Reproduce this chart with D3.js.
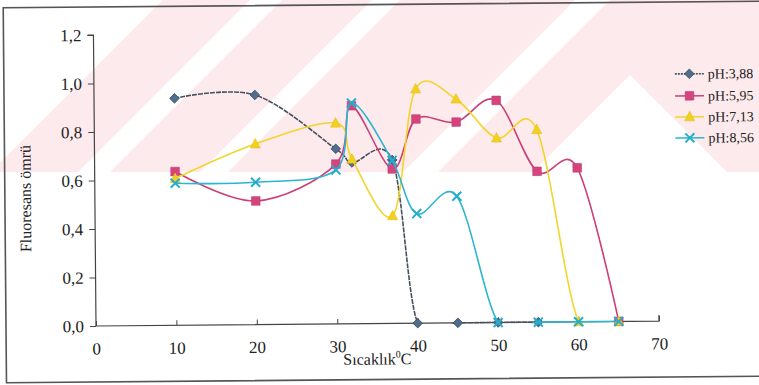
<!DOCTYPE html>
<html><head><meta charset="utf-8">
<script src="https://cdn.jsdelivr.net/npm/d3@7"></script>
<style>body{margin:0;background:#fff}svg{display:block}</style>
</head><body><svg id="c" width="759" height="385"></svg>
<script>
// ---- data ----
const temps = [10, 20, 30, 32, 37, 40, 45, 50, 55, 60, 65];
const seriesNames = ["pH:3,88", "pH:5,95", "pH:7,13", "pH:8,56"];
const ph388 = [0.936, 0.947, 0.722, 0.665, 0.674, 0, 0, 0, 0, null, null];
const ph595 = [0.634, 0.510, 0.659, 0.899, 0.637, 0.842, 0.828, 0.916, 0.622, 0.635, 0];
const ph713 = [0.605, 0.745, 0.828, 0.679, 0.444, 0.966, 0.923, 0.761, 0.794, 0, 0];
const ph856 = [0.586, 0.587, 0.635, 0.910, 0.672, 0.452, 0.522, 0, 0, 0, 0];
const xTicks = [0, 10, 20, 30, 40, 50, 60, 70];
const yTicks = [0, 0.2, 0.4, 0.6, 0.8, 1.0, 1.2];
const xTitle = "Sıcaklık";
const yTitle = "Fluoresans ömrü";

// ---- setup ----
const svg = d3.select("#c");
const font = "'Liberation Serif','Times New Roman',serif";

// faint watermark stripes (scan background)
const wm = svg.append("g");
svg.append("clipPath").attr("id", "wmclip").append("rect")
  .attr("x", 0).attr("y", 0).attr("width", 759).attr("height", 172);
wm.attr("clip-path", "url(#wmclip)");
const pinkBands = [[163, 250], [282, 372], [400, 575], [610, 1000]];
pinkBands.forEach(([a, b]) => {
  wm.append("path").attr("fill", "#fdeaed")
    .attr("d", `M${a},0 L${b},0 L${b - 400},400 L${a - 400},400 Z`);
});
wm.append("path").attr("fill", "#fff")
  .attr("d", "M630,75 L727,172 L533,172 Z");

const g = svg.append("g").attr("transform", "rotate(-0.5,96,326)");

// frame
g.append("rect").attr("x", 6).attr("y", 7).attr("width", 780).attr("height", 375)
  .attr("fill", "none").attr("stroke", "#555").attr("stroke-width", 1.6);

const x = d3.scaleLinear().domain([0, 70]).range([96, 659]);
const y = d3.scaleLinear().domain([0, 1.2]).range([326, 35]);

// axes
const yAxis = g.append("g").attr("transform", `translate(${x(0)},0)`)
  .call(d3.axisLeft(y).tickValues(yTicks).tickSize(6).tickPadding(6)
    .tickFormat(d => d3.format(".1f")(d).replace(".", ",")));
const xAxis = g.append("g").attr("transform", `translate(0,${y(0)})`)
  .call(d3.axisBottom(x).tickValues(xTicks).tickSize(-5).tickPadding(14));
[xAxis, yAxis].forEach(a => {
  a.select(".domain").attr("stroke", "#444").attr("stroke-width", 1.2);
  a.selectAll(".tick line").attr("stroke", "#444").attr("stroke-width", 1);
  a.selectAll("text").attr("font-family", font).attr("font-size", 17).attr("fill", "#222");
});
xAxis.selectAll(".tick text").attr("dy", "0.85em");
yAxis.select(".domain").attr("d", `M-6,${y(1.2)}H0V${y(0)}`);
xAxis.select(".domain").attr("d", `M${x(0)},0H${x(70)}V-6`);

// titles
const xt = g.append("text").attr("x", 343).attr("y", 367)
  .attr("font-family", font).attr("font-size", 16).attr("fill", "#222");
xt.append("tspan").text(xTitle);
xt.append("tspan").attr("font-size", 10).attr("dy", -7).text("0");
xt.append("tspan").attr("dy", 7).text("C");
g.append("text").attr("transform", "translate(32,198) rotate(-90)")
  .attr("text-anchor", "middle").attr("font-family", font).attr("font-size", 16)
  .attr("fill", "#222").text(yTitle);

// clip for lines
g.append("clipPath").attr("id", "plotclip").append("rect")
  .attr("x", x(0)).attr("y", y(1.2)).attr("width", x(70) - x(0)).attr("height", y(0) - y(1.2) + 1.2);

const series = [
  { name: seriesNames[0], vals: ph388, line: "#46505e", fill: "#4f6e8e", stroke: "#34475c", shape: "diamond", dash: "5,1" },
  { name: seriesNames[1], vals: ph595, line: "#cc3f78", fill: "#d4457d", stroke: "#c23a70", shape: "square", dash: null },
  { name: seriesNames[2], vals: ph713, line: "#f1d52c", fill: "#f3cf1f", stroke: "#e6c014", shape: "triangle", dash: null },
  { name: seriesNames[3], vals: ph856, line: "#2db5cf", fill: "none", stroke: "#25aecb", shape: "x", dash: null }
];

function marker(sel, s, cx, cy) {
  if (s.shape === "diamond") {
    sel.append("path").attr("d", `M${cx},${cy - 4.8}L${cx + 4.8},${cy}L${cx},${cy + 4.8}L${cx - 4.8},${cy}Z`)
      .attr("fill", s.fill).attr("stroke", s.stroke).attr("stroke-width", 0.8);
  } else if (s.shape === "square") {
    sel.append("rect").attr("x", cx - 4.3).attr("y", cy - 4.3).attr("width", 8.6).attr("height", 8.6)
      .attr("fill", s.fill).attr("stroke", s.stroke).attr("stroke-width", 0.6);
  } else if (s.shape === "triangle") {
    sel.append("path").attr("d", `M${cx},${cy - 5.5}L${cx + 5},${cy + 4}L${cx - 5},${cy + 4}Z`)
      .attr("fill", s.fill).attr("stroke", s.stroke).attr("stroke-width", 0.6);
  } else {
    sel.append("path").attr("d", `M${cx - 4.5},${cy - 4.5}L${cx + 4.5},${cy + 4.5}M${cx + 4.5},${cy - 4.5}L${cx - 4.5},${cy + 4.5}`)
      .attr("fill", "none").attr("stroke", s.stroke).attr("stroke-width", 2);
  }
}

const lineGen = d3.line()
  .defined(d => d[1] !== null)
  .x(d => x(d[0])).y(d => y(d[1]))
  .curve(d3.curveCardinal.tension(0));

series.forEach(s => {
  const pts = temps.map((t, i) => [t, s.vals[i]]);
  g.append("path").datum(pts).attr("d", lineGen)
    .attr("fill", "none").attr("stroke", s.line).attr("stroke-width", 1.6)
    .attr("stroke-dasharray", s.dash).attr("clip-path", "url(#plotclip)");
  const mg = g.append("g");
  pts.filter(d => d[1] !== null).forEach(d => marker(mg, s, x(d[0]), y(d[1])));
});

// legend
const lg = g.append("g");
const legendY = [79, 101, 122, 143];
series.forEach((s, i) => {
  const ly = legendY[i];
  lg.append("line").attr("x1", 677).attr("x2", 706).attr("y1", ly).attr("y2", ly)
    .attr("stroke", s.line).attr("stroke-width", 1.6).attr("stroke-dasharray", s.dash ? "2,1" : null);
  marker(lg, s, 691.5, ly);
  lg.append("text").attr("x", 710).attr("y", ly).attr("dy", "0.35em")
    .attr("font-family", font).attr("font-size", 14).attr("fill", "#222").text(s.name);
});
</script></body></html>
